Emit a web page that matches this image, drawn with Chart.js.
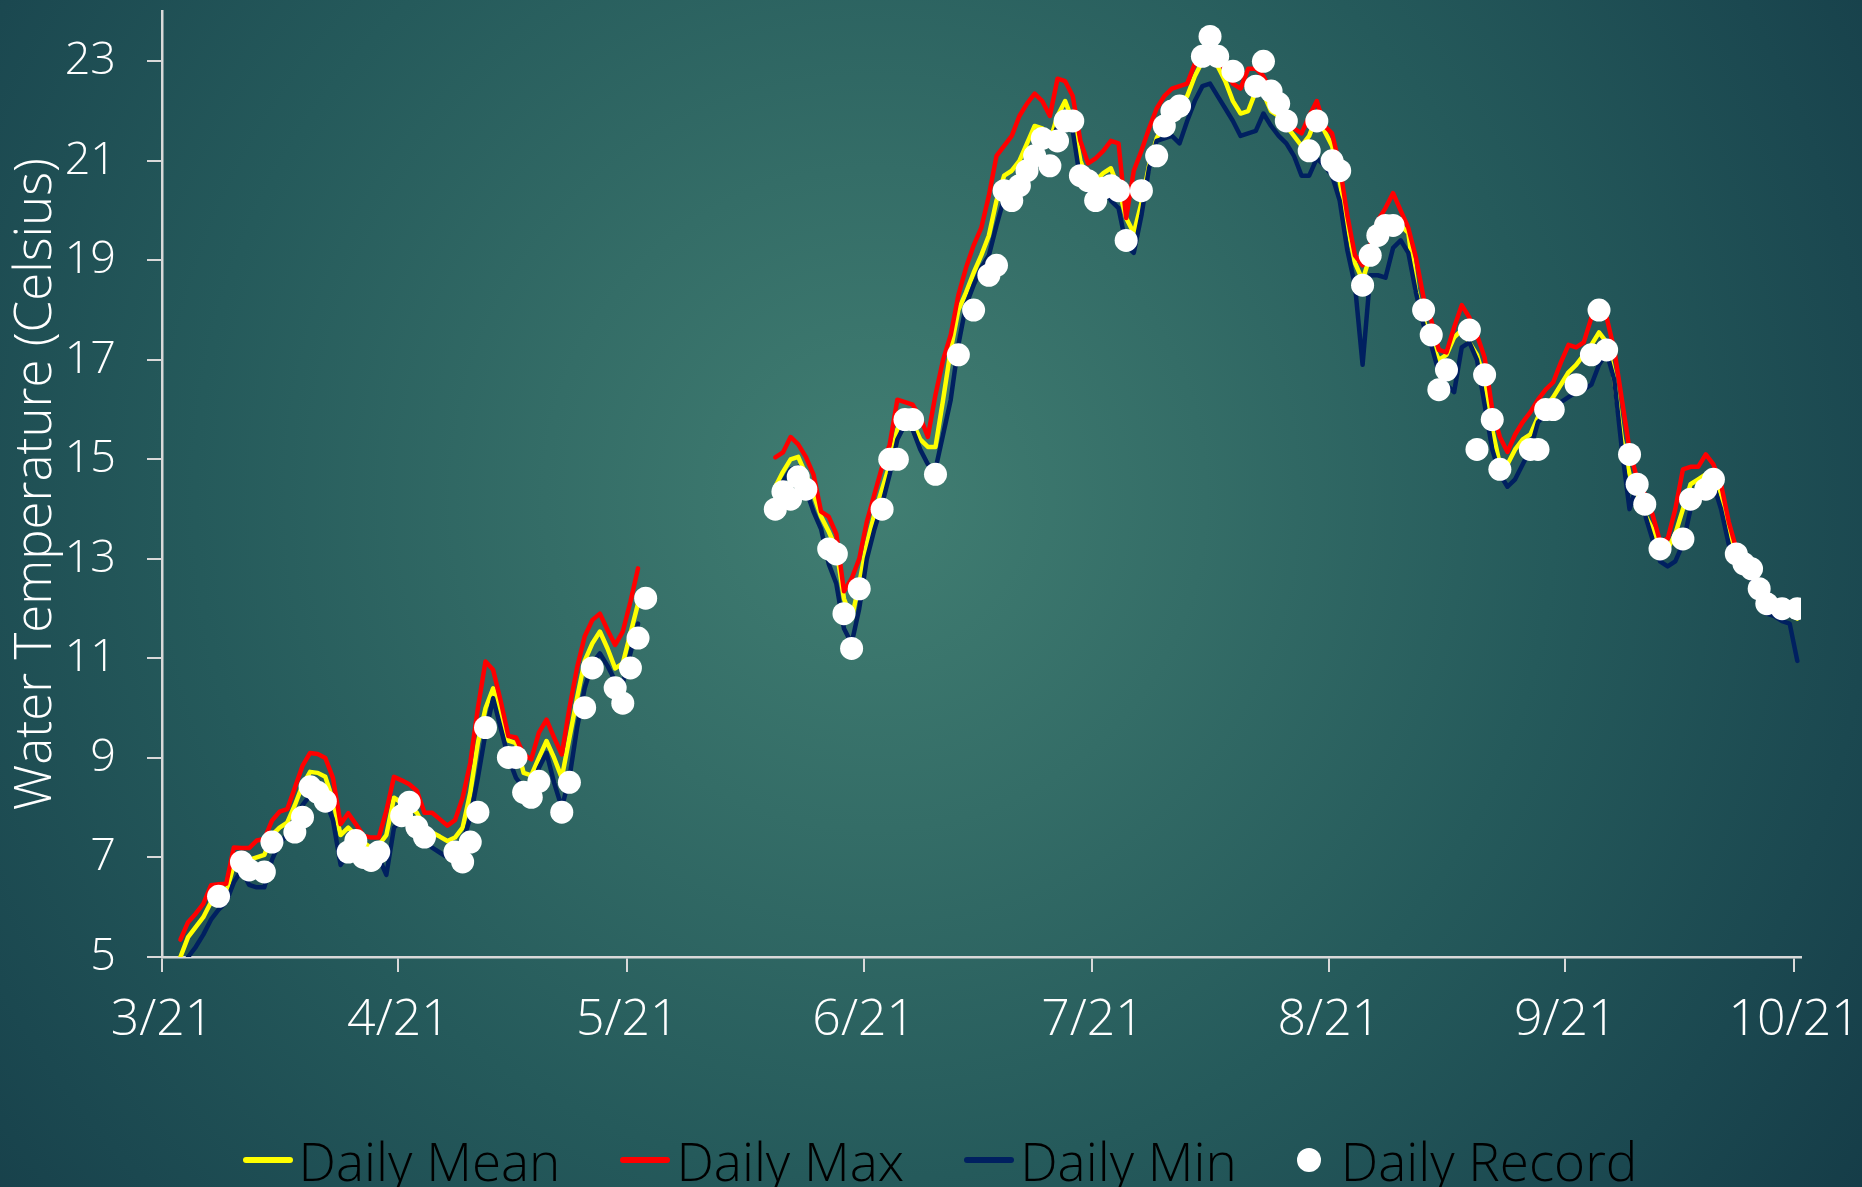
<!DOCTYPE html>
<html>
<head>
<meta charset="utf-8">
<script src="https://cdn.jsdelivr.net/npm/chart.js@4.4.1/dist/chart.umd.min.js"></script>
<style>
  html, body { margin: 0; padding: 0; width: 1862px; height: 1187px; overflow: hidden; }
  body {
    background: radial-gradient(circle at 47% 42%, #417e72 0px, #346d67 330px, #255a5b 680px, #1b4850 1000px, #143a46 1250px);
    font-family: 'Open Sans', 'DejaVu Sans', sans-serif;
  }
  #chart { position: absolute; left: 0; top: 0; }
  #legend {
    position: absolute; left: 0; top: 1126px; width: 1862px; height: 68px; box-sizing: border-box; padding-left: 18px;
    display: flex; justify-content: center; align-items: center;
    font-size: 53px; font-weight: 300; color: #000; white-space: nowrap;
  }
  .item { display: flex; align-items: center; margin: 0 30px; }
  .line { width: 50px; height: 6px; border-radius: 3px; margin-right: 6px; }
  .dot { width: 24px; height: 24px; border-radius: 50%; background: #fff; margin-right: 20px; }
</style>
</head>
<body>
<canvas id="chart" width="1862" height="1187"></canvas>
<div id="legend"></div>
<script>
// === Données (jours comptés depuis le 21 mars) ===
const tickDays = [0, 31, 61, 92, 122, 153, 184, 214];
const tickLabels = ['3/21', '4/21', '5/21', '6/21', '7/21', '8/21', '9/21', '10/21'];
const yTicks = [5, 7, 9, 11, 13, 15, 17, 19, 21, 23];
const readingHour = 10; // relevé vers 10h

// période 1 : du jour 2 au jour 62
const start1 = 2;
const mean1 = [5.0, 5.4, 5.6, 5.8, 6.1, 6.2, 6.3, 6.85, 7.0, 6.95, 7.0, 7.05, 7.45, 7.6, 7.7, 8.05, 8.45, 8.72, 8.7, 8.62,
  8.15, 7.45, 7.6, 7.45, 7.3, 7.2, 7.25, 7.45, 8.2, 8.1, 8.0, 7.9, 7.6, 7.5, 7.42, 7.33, 7.4, 7.6, 8.3, 9.3,
  10.0, 10.4, 9.9, 9.35, 9.3, 8.7, 8.65, 9.0, 9.34, 9.0, 8.6, 9.4, 10.2, 10.95, 11.3, 11.54, 11.2, 10.8, 10.9, 11.5, 12.1];
const max1 = [5.35, 5.7, 5.87, 6.07, 6.44, 6.46, 6.47, 7.2, 7.19, 7.19, 7.34, 7.37, 7.74, 7.92, 7.97, 8.4, 8.84, 9.1, 9.08, 9.0,
  8.6, 7.67, 7.89, 7.67, 7.44, 7.4, 7.4, 7.94, 8.62, 8.55, 8.47, 8.34, 7.9, 7.9, 7.77, 7.64, 7.75, 8.2, 8.9, 10.0,
  10.94, 10.77, 10.14, 9.44, 9.41, 9.07, 8.97, 9.51, 9.77, 9.41, 9.07, 10.0, 10.81, 11.44, 11.77, 11.9, 11.57, 11.27, 11.54, 12.14, 12.81];
const min1 = [4.7, 5.0, 5.2, 5.45, 5.75, 5.95, 6.1, 6.5, 6.75, 6.45, 6.4, 6.4, 6.95, 7.3, 7.45, 7.7, 8.05, 8.25, 8.3, 8.15,
  7.75, 6.85, 7.1, 7.2, 7.0, 6.95, 7.0, 6.65, 7.6, 7.75, 7.7, 7.55, 7.35, 7.2, 7.1, 7.0, 7.1, 7.3, 7.8, 8.6,
  9.5, 10.2, 9.6, 9.0, 8.6, 8.4, 8.35, 8.8, 9.1, 8.5, 8.0, 8.6, 9.6, 10.4, 10.9, 11.1, 10.85, 10.55, 10.5, 11.1, 11.7];

// période 2 : du jour 80 au jour 214
const start2 = 80;
const mean2 = [14.45, 14.75, 15.0, 15.05, 14.7, 14.3, 13.85, 13.55, 13.2, 12.2, 11.8, 12.5, 13.3, 13.9, 14.4, 14.9, 15.6, 15.85, 15.75, 15.4,
  15.25, 15.25, 16.2, 17.2, 18.0, 18.35, 18.75, 19.1, 19.5, 20.2, 20.7, 20.8, 21.0, 21.35, 21.7, 21.65, 21.4, 21.9, 22.2, 21.8,
  21.0, 20.6, 20.6, 20.75, 20.85, 20.45, 19.85, 19.55, 20.15, 20.9, 21.45, 21.75, 21.95, 22.1, 22.3, 22.7, 23.0, 23.2, 22.9, 22.6,
  22.2, 21.95, 22.0, 22.4, 22.35, 22.0, 21.9, 21.7, 21.5, 21.3, 21.5, 21.9, 21.6, 21.3, 20.6, 19.7, 18.95, 18.6, 19.1, 19.5,
  19.65, 19.8, 19.7, 19.55, 18.4, 17.8, 17.35, 17.0, 17.1, 17.45, 17.6, 17.35, 17.1, 16.6, 15.6, 14.9, 14.9, 15.2, 15.4, 15.5,
  15.85, 16.05, 16.25, 16.5, 16.75, 16.9, 17.1, 17.3, 17.55, 17.35, 16.6, 15.4, 14.7, 14.3, 13.9, 13.6, 13.2, 13.2, 13.5, 14.0,
  14.5, 14.6, 14.7, 14.65, 14.3, 13.6, 13.1, 12.9, 12.7, 12.4, 12.15, 12.1, 12.0, 11.9, 11.8];
const max2 = [15.04, 15.14, 15.45, 15.3, 15.05, 14.7, 13.95, 13.85, 13.5, 12.35, 12.6, 13.0, 13.75, 14.3, 14.85, 15.3, 16.2, 16.15, 16.1, 15.85,
  15.45, 16.3, 17.0, 17.5, 18.3, 18.85, 19.3, 19.65, 20.3, 21.1, 21.3, 21.5, 21.9, 22.15, 22.35, 22.2, 21.9, 22.65, 22.6, 22.3,
  21.4, 20.95, 21.05, 21.2, 21.4, 21.35, 19.85, 20.8, 21.2, 21.65, 22.05, 22.3, 22.45, 22.5, 22.55, 22.95, 23.2, 23.3, 23.1, 22.8,
  22.55, 22.45, 22.85, 22.85, 22.7, 22.4, 22.2, 21.9, 21.65, 21.55, 21.9, 22.2, 21.7, 21.55, 20.9, 19.9, 19.1, 18.9, 19.3, 19.8,
  20.05, 20.35, 20.0, 19.65, 19.05, 18.25, 17.8, 17.2, 17.15, 17.65, 18.1, 17.85, 17.5, 17.05, 16.0, 15.45, 15.15, 15.5, 15.75, 15.95,
  16.2, 16.4, 16.55, 16.95, 17.3, 17.25, 17.35, 17.85, 18.1, 17.85, 17.2, 16.2, 15.2, 14.6, 14.3, 13.9, 13.35, 13.4, 14.0, 14.8,
  14.85, 14.85, 15.1, 14.9, 14.5, 13.75, 13.2, 12.8, 12.7, 12.5, 12.2, 12.1, 12.05, 11.95, 11.9];
const min2 = [14.2, 14.55, 14.8, 14.85, 14.4, 13.95, 13.6, 12.9, 12.5, 11.6, 11.3, 12.0, 13.0, 13.6, 14.1, 14.7, 15.4, 15.7, 15.6, 15.2,
  14.9, 14.8, 15.5, 16.2, 17.3, 18.1, 18.5, 18.85, 19.1, 19.7, 20.25, 20.4, 20.6, 20.9, 21.3, 21.35, 21.3, 21.7, 21.75, 21.6,
  20.6, 20.4, 20.4, 20.5, 20.2, 20.05, 19.3, 19.15, 19.9, 20.85, 21.4, 21.45, 21.5, 21.35, 21.8, 22.2, 22.5, 22.55, 22.3, 22.05,
  21.8, 21.5, 21.55, 21.6, 21.95, 21.7, 21.5, 21.35, 21.1, 20.7, 20.7, 21.05, 20.9, 20.7, 20.2, 19.2, 18.5, 16.9, 18.7, 18.7,
  18.65, 19.25, 19.4, 19.15, 18.35, 17.7, 17.3, 16.75, 16.5, 16.35, 17.25, 17.35, 17.0, 16.1, 15.2, 14.7, 14.45, 14.6, 14.9, 15.2,
  15.75, 15.9, 16.0, 16.15, 16.25, 16.35, 16.4, 16.5, 16.9, 17.15, 16.6, 15.2, 14.0, 14.5, 13.9, 13.4, 12.95, 12.85, 12.95, 13.3,
  14.0, 14.3, 14.5, 14.5, 14.0, 13.3, 12.9, 12.75, 12.6, 12.3, 11.9, 11.85, 11.75, 11.7, 10.95];

// records journaliers
const recordDays = [7, 10, 11, 13, 14, 17, 18, 19, 20, 21, 24, 25, 26, 27, 28, 31, 32, 33, 34, 38, 39, 40, 41, 42, 45, 46, 47, 48, 49,
  52, 53, 55, 56, 59, 60, 61, 62, 63,
  80, 81, 82, 83, 84, 87, 88, 89, 90, 91, 94, 95, 96, 97, 98, 101, 104, 106, 108, 109, 110, 111, 112, 113, 114, 115, 116, 117,
  118, 119, 120, 121, 122, 123, 124, 125, 126, 128, 130, 131, 132, 133, 136, 137, 138, 140, 143, 144, 145, 146, 147, 150, 151,
  153, 154, 157, 158, 159, 160, 161, 165, 166, 167, 168, 171, 172, 173, 174, 175, 179, 180, 181, 182, 185, 187, 188, 189, 192,
  193, 194, 196, 199, 200, 202, 203, 206, 207, 208, 209, 210, 212, 214];
const recordValues = [6.22, 6.91, 6.75, 6.71, 7.31, 7.51, 7.81, 8.42, 8.31, 8.13, 7.11, 7.34, 7.0, 6.94, 7.11, 7.84, 8.11, 7.61, 7.41,
  7.11, 6.91, 7.31, 7.91, 9.61, 9.01, 9.01, 8.31, 8.21, 8.53, 7.91, 8.51, 10.01, 10.81, 10.41, 10.1, 10.81, 11.41, 12.21,
  14.0, 14.35, 14.2, 14.65, 14.4, 13.2, 13.1, 11.9, 11.2, 12.4, 14.0, 15.0, 15.0, 15.8, 15.8, 14.7, 17.1, 18.0, 18.7, 18.9, 20.4,
  20.2, 20.5, 20.8, 21.1, 21.45, 20.9, 21.4, 21.8, 21.8, 20.7, 20.6, 20.2, 20.45, 20.5, 20.4, 19.4, 20.4, 21.1, 21.7, 22.0, 22.1,
  23.1, 23.5, 23.1, 22.8, 22.5, 23.0, 22.4, 22.15, 21.8, 21.2, 21.8, 21.0, 20.8, 18.5, 19.1, 19.5, 19.7, 19.7, 18.0, 17.5, 16.4,
  16.8, 17.6, 15.2, 16.7, 15.8, 14.8, 15.2, 15.2, 16.0, 16.0, 16.5, 17.1, 18.0, 17.2, 15.1, 14.5, 14.1, 13.2, 13.4, 14.2, 14.4,
  14.6, 13.1, 12.9, 12.8, 12.4, 12.1, 12.0, 12.0];

const FONT = "'Open Sans', 'DejaVu Sans', sans-serif";

// === Construction des séries avec une coupure entre les deux périodes ===
function buildSeries(vals1, vals2) {
  const pts = vals1.map((v, i) => ({ x: start1 + i + readingHour / 24, y: v }));
  pts.push({ x: start1 + vals1.length + readingHour / 24, y: null });
  vals2.forEach((v, i) => pts.push({ x: start2 + i + readingHour / 24, y: v }));
  return pts;
}

const records = recordDays.map((d, i) => ({ x: d + readingHour / 24, y: recordValues[i] }));

const lineStyle = { borderWidth: 4.5, pointRadius: 0, tension: 0, borderJoinStyle: 'round', borderCapStyle: 'round', fill: false };

const datasets = [
  { label: 'Daily Mean', data: buildSeries(mean1, mean2), borderColor: '#FFFF00', order: 3, ...lineStyle },
  { label: 'Daily Max', data: buildSeries(max1, max2), borderColor: '#FF0000', order: 2, ...lineStyle },
  { label: 'Daily Min', data: buildSeries(min1, min2), borderColor: '#002060', order: 1, ...lineStyle },
  { label: 'Daily Record', data: records, showLine: false, pointRadius: 11.5, pointHoverRadius: 11.5,
    pointBackgroundColor: '#FFFFFF', pointBorderWidth: 0, borderColor: '#FFFFFF', backgroundColor: '#FFFFFF', order: 0 }
];

const axisColor = '#d9d9d9';

new Chart(document.getElementById('chart').getContext('2d'), {
  type: 'line',
  data: { datasets },
  options: {
    responsive: false,
    animation: false,
    devicePixelRatio: 1,
    layout: { padding: { top: 7, right: 61, left: 0, bottom: 0 } },
    plugins: { legend: { display: false }, tooltip: { enabled: false } },
    scales: {
      x: {
        type: 'linear', min: 0, max: 214.9,
        afterFit: (s) => { s.height = 230; s.paddingLeft = 0; s.paddingRight = 0; },
        afterBuildTicks: (s) => { s.ticks = tickDays.map(v => ({ value: v })); },
        ticks: {
          callback: (v) => tickLabels[tickDays.indexOf(v)],
          color: '#FFFFFF', font: { family: FONT, size: 50, weight: 300 },
          padding: 19, maxRotation: 0, autoSkip: false
        },
        grid: { drawOnChartArea: false, tickLength: 15, color: axisColor, lineWidth: 2 },
        border: { color: axisColor, width: 2.5 }
      },
      y: {
        min: 5, max: 24,
        afterFit: (s) => { s.width = 162; s.paddingTop = 0; s.paddingBottom = 0; },
        afterBuildTicks: (s) => { s.ticks = yTicks.map(v => ({ value: v })); },
        ticks: { color: '#FFFFFF', font: { family: FONT, size: 45, weight: 300 }, padding: 31 },
        grid: { drawOnChartArea: false, tickLength: 15, color: axisColor, lineWidth: 2 },
        border: { color: axisColor, width: 2.5 },
        title: {
          display: true, text: 'Water Temperature (Celsius)', color: '#FFFFFF',
          font: { family: FONT, size: 51, weight: 300 }, padding: { top: 6, bottom: 0 }
        }
      }
    }
  }
});

// === Légende HTML ===
const legend = document.getElementById('legend');
datasets.forEach(ds => {
  const item = document.createElement('div');
  item.className = 'item';
  const mark = document.createElement('span');
  if (ds.showLine === false) {
    mark.className = 'dot';
  } else {
    mark.className = 'line';
    mark.style.background = ds.borderColor;
  }
  const txt = document.createElement('span');
  txt.textContent = ds.label;
  item.appendChild(mark);
  item.appendChild(txt);
  legend.appendChild(item);
});
</script>
</body>
</html>
